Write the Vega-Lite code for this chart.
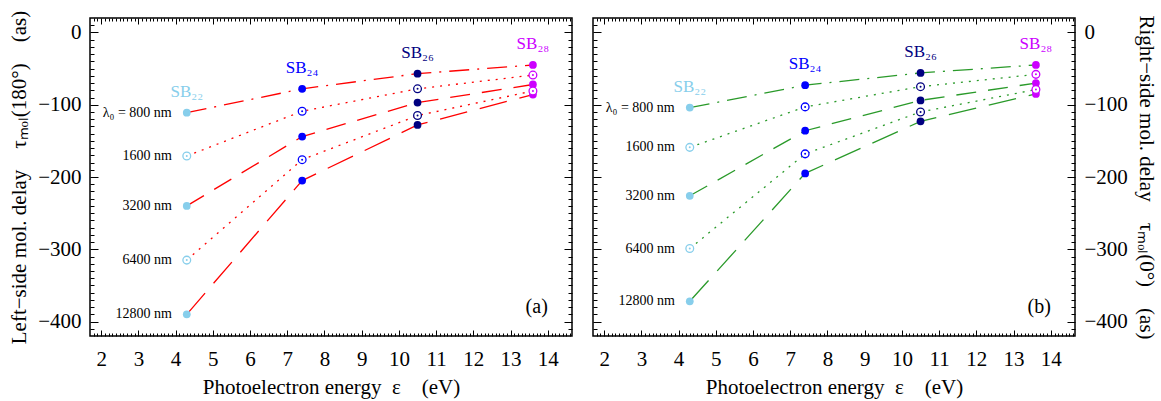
{
  "$schema": "https://vega.github.io/schema/vega-lite/v6.json",
  "padding": {"left": 7, "top": 9, "right": 5, "bottom": 2},
  "background": "white",
  "datasets": {
    "d": [
      {"p":"a","sb":"22","x":4.3,"lam":"800","tau":-111,"lt":"λ₀ = 800 nm","st":"SB₂₂"},
      {"p":"a","sb":"22","x":4.3,"lam":"1600","tau":-171,"lt":"1600 nm","st":"SB₂₂"},
      {"p":"a","sb":"22","x":4.3,"lam":"3200","tau":-240,"lt":"3200 nm","st":"SB₂₂"},
      {"p":"a","sb":"22","x":4.3,"lam":"6400","tau":-315,"lt":"6400 nm","st":"SB₂₂"},
      {"p":"a","sb":"22","x":4.3,"lam":"12800","tau":-390,"lt":"12800 nm","st":"SB₂₂"},
      {"p":"a","sb":"24","x":7.4,"lam":"800","tau":-78,"lt":"","st":"SB₂₄"},
      {"p":"a","sb":"24","x":7.4,"lam":"1600","tau":-109,"lt":"","st":"SB₂₄"},
      {"p":"a","sb":"24","x":7.4,"lam":"3200","tau":-144,"lt":"","st":"SB₂₄"},
      {"p":"a","sb":"24","x":7.4,"lam":"6400","tau":-176,"lt":"","st":"SB₂₄"},
      {"p":"a","sb":"24","x":7.4,"lam":"12800","tau":-205,"lt":"","st":"SB₂₄"},
      {"p":"a","sb":"26","x":10.5,"lam":"800","tau":-57,"lt":"","st":"SB₂₆"},
      {"p":"a","sb":"26","x":10.5,"lam":"1600","tau":-78,"lt":"","st":"SB₂₆"},
      {"p":"a","sb":"26","x":10.5,"lam":"3200","tau":-97,"lt":"","st":"SB₂₆"},
      {"p":"a","sb":"26","x":10.5,"lam":"6400","tau":-115,"lt":"","st":"SB₂₆"},
      {"p":"a","sb":"26","x":10.5,"lam":"12800","tau":-128,"lt":"","st":"SB₂₆"},
      {"p":"a","sb":"28","x":13.6,"lam":"800","tau":-45,"lt":"","st":"SB₂₈"},
      {"p":"a","sb":"28","x":13.6,"lam":"1600","tau":-59,"lt":"","st":"SB₂₈"},
      {"p":"a","sb":"28","x":13.6,"lam":"3200","tau":-72,"lt":"","st":"SB₂₈"},
      {"p":"a","sb":"28","x":13.6,"lam":"6400","tau":-81,"lt":"","st":"SB₂₈"},
      {"p":"a","sb":"28","x":13.6,"lam":"12800","tau":-86,"lt":"","st":"SB₂₈"},
      {"p":"b","sb":"22","x":4.3,"lam":"800","tau":-104,"lt":"λ₀ = 800 nm","st":"SB₂₂"},
      {"p":"b","sb":"22","x":4.3,"lam":"1600","tau":-159,"lt":"1600 nm","st":"SB₂₂"},
      {"p":"b","sb":"22","x":4.3,"lam":"3200","tau":-226,"lt":"3200 nm","st":"SB₂₂"},
      {"p":"b","sb":"22","x":4.3,"lam":"6400","tau":-299,"lt":"6400 nm","st":"SB₂₂"},
      {"p":"b","sb":"22","x":4.3,"lam":"12800","tau":-372,"lt":"12800 nm","st":"SB₂₂"},
      {"p":"b","sb":"24","x":7.4,"lam":"800","tau":-73,"lt":"","st":"SB₂₄"},
      {"p":"b","sb":"24","x":7.4,"lam":"1600","tau":-103,"lt":"","st":"SB₂₄"},
      {"p":"b","sb":"24","x":7.4,"lam":"3200","tau":-136,"lt":"","st":"SB₂₄"},
      {"p":"b","sb":"24","x":7.4,"lam":"6400","tau":-168,"lt":"","st":"SB₂₄"},
      {"p":"b","sb":"24","x":7.4,"lam":"12800","tau":-195,"lt":"","st":"SB₂₄"},
      {"p":"b","sb":"26","x":10.5,"lam":"800","tau":-56,"lt":"","st":"SB₂₆"},
      {"p":"b","sb":"26","x":10.5,"lam":"1600","tau":-75,"lt":"","st":"SB₂₆"},
      {"p":"b","sb":"26","x":10.5,"lam":"3200","tau":-94,"lt":"","st":"SB₂₆"},
      {"p":"b","sb":"26","x":10.5,"lam":"6400","tau":-110,"lt":"","st":"SB₂₆"},
      {"p":"b","sb":"26","x":10.5,"lam":"12800","tau":-123,"lt":"","st":"SB₂₆"},
      {"p":"b","sb":"28","x":13.6,"lam":"800","tau":-45,"lt":"","st":"SB₂₈"},
      {"p":"b","sb":"28","x":13.6,"lam":"1600","tau":-58,"lt":"","st":"SB₂₈"},
      {"p":"b","sb":"28","x":13.6,"lam":"3200","tau":-70,"lt":"","st":"SB₂₈"},
      {"p":"b","sb":"28","x":13.6,"lam":"6400","tau":-79,"lt":"","st":"SB₂₈"},
      {"p":"b","sb":"28","x":13.6,"lam":"12800","tau":-85,"lt":"","st":"SB₂₈"}
    ]
  },
  "data": {"name": "d"},
  "spacing": 17,
  "hconcat": [
    {
      "width": 482, "height": 318,
      "transform": [{"filter": "datum.p === 'a'"}],
      "resolve": {"axis": {"x": "independent", "y": "independent"}},
      "layer": [
        {
          "mark": {"type": "line", "color": "#ff0000", "strokeWidth": 1.3},
          "encoding": {
            "x": {"field": "x", "type": "quantitative", "scale": {"domain": [1.7, 14.65], "nice": false, "zero": false},
              "axis": {"orient": "bottom", "values": [2,3,4,5,6,7,8,9,10,11,12,13,14], "tickSize": -6, "labelPadding": 18, "title": "Photoelectron energy\u2002ε\u2003(eV)", "titlePadding": 7,
                "encode": {"labels": {"update": {"font": {"value": "Liberation Serif"}, "fontSize": {"value": 21}}}, "title": {"update": {"font": {"value": "Liberation Serif"}, "fontSize": {"value": 21}}}}}},
            "y": {"field": "tau", "type": "quantitative", "scale": {"domain": [-420, 20], "nice": false, "zero": false},
              "axis": {"orient": "left", "values": [-400,-300,-200,-100,0], "tickSize": -8, "labelPadding": 17, "title": "Left−side mol. delay\u2003τₘₒₗ(180°)\u2003(as)", "titlePadding": 8,
                "encode": {"labels": {"update": {"font": {"value": "Liberation Serif"}, "fontSize": {"value": 21}}}, "title": {"update": {"font": {"value": "Liberation Serif"}, "fontSize": {"value": 21}}}}}},
            "detail": {"field": "lam"},
            "strokeDash": {"field": "lam", "type": "nominal", "legend": null,
              "scale": {"domain": ["800","1600","3200","6400","12800"], "range": [[20,8,2,8],[2,6],[20,12],[2,6],[28,13]]}}
          }
        },
        {
          "transform": [{"filter": "datum.lam === '800' || datum.lam === '3200' || datum.lam === '12800'"}],
          "mark": {"type": "point", "shape": "circle", "filled": true, "size": 60, "opacity": 1},
          "encoding": {
            "x": {"field": "x", "type": "quantitative", "scale": {"domain": [1.7, 14.65], "nice": false, "zero": false},
              "axis": {"orient": "bottom", "values": [1.8,1.9,2.1,2.2,2.3,2.4,2.5,2.6,2.7,2.8,2.9,3.1,3.2,3.3,3.4,3.5,3.6,3.7,3.8,3.9,4.1,4.2,4.3,4.4,4.5,4.6,4.7,4.8,4.9,5.1,5.2,5.3,5.4,5.5,5.6,5.7,5.8,5.9,6.1,6.2,6.3,6.4,6.5,6.6,6.7,6.8,6.9,7.1,7.2,7.3,7.4,7.5,7.6,7.7,7.8,7.9,8.1,8.2,8.3,8.4,8.5,8.6,8.7,8.8,8.9,9.1,9.2,9.3,9.4,9.5,9.6,9.7,9.8,9.9,10.1,10.2,10.3,10.4,10.5,10.6,10.7,10.8,10.9,11.1,11.2,11.3,11.4,11.5,11.6,11.7,11.8,11.9,12.1,12.2,12.3,12.4,12.5,12.6,12.7,12.8,12.9,13.1,13.2,13.3,13.4,13.5,13.6,13.7,13.8,13.9,14.1,14.2,14.3,14.4,14.5,14.6], "tickSize": -3, "labels": false, "title": null}},
            "y": {"field": "tau", "type": "quantitative", "scale": {"domain": [-420, 20], "nice": false, "zero": false},
              "axis": {"orient": "left", "values": [-410,-390,-380,-370,-360,-350,-340,-330,-320,-310,-290,-280,-270,-260,-250,-240,-230,-220,-210,-190,-180,-170,-160,-150,-140,-130,-120,-110,-90,-80,-70,-60,-50,-40,-30,-20,-10,10], "tickSize": -4, "labels": false, "title": null}},
            "color": {"field": "sb", "type": "nominal", "legend": null,
              "scale": {"domain": ["22","24","26","28"], "range": ["#87ceeb","#0000ff","#000080","#cc00ff"]}}
          }
        },
        {
          "transform": [{"filter": "datum.lam === '1600' || datum.lam === '6400'"}],
          "mark": {"type": "point", "shape": "circle", "filled": false, "fill": "white", "fillOpacity": 1, "size": 60, "strokeWidth": 1.3, "opacity": 1},
          "encoding": {
            "x": {"field": "x", "type": "quantitative", "scale": {"domain": [1.7, 14.65], "nice": false, "zero": false},
              "axis": {"orient": "top", "values": [2,3,4,5,6,7,8,9,10,11,12,13,14], "tickSize": -6, "labels": false, "title": null}},
            "y": {"field": "tau", "type": "quantitative", "scale": {"domain": [-420, 20], "nice": false, "zero": false},
              "axis": {"orient": "right", "values": [-400,-300,-200,-100,0], "tickSize": -8, "labels": false, "title": null}},
            "color": {"field": "sb", "type": "nominal", "legend": null}
          }
        },
        {
          "transform": [{"filter": "datum.lam === '1600' || datum.lam === '6400'"}],
          "mark": {"type": "point", "shape": "circle", "filled": true, "size": 4, "opacity": 1},
          "encoding": {
            "x": {"field": "x", "type": "quantitative", "scale": {"domain": [1.7, 14.65], "nice": false, "zero": false},
              "axis": {"orient": "top", "values": [1.8,1.9,2.1,2.2,2.3,2.4,2.5,2.6,2.7,2.8,2.9,3.1,3.2,3.3,3.4,3.5,3.6,3.7,3.8,3.9,4.1,4.2,4.3,4.4,4.5,4.6,4.7,4.8,4.9,5.1,5.2,5.3,5.4,5.5,5.6,5.7,5.8,5.9,6.1,6.2,6.3,6.4,6.5,6.6,6.7,6.8,6.9,7.1,7.2,7.3,7.4,7.5,7.6,7.7,7.8,7.9,8.1,8.2,8.3,8.4,8.5,8.6,8.7,8.8,8.9,9.1,9.2,9.3,9.4,9.5,9.6,9.7,9.8,9.9,10.1,10.2,10.3,10.4,10.5,10.6,10.7,10.8,10.9,11.1,11.2,11.3,11.4,11.5,11.6,11.7,11.8,11.9,12.1,12.2,12.3,12.4,12.5,12.6,12.7,12.8,12.9,13.1,13.2,13.3,13.4,13.5,13.6,13.7,13.8,13.9,14.1,14.2,14.3,14.4,14.5,14.6], "tickSize": -3, "labels": false, "title": null}},
            "y": {"field": "tau", "type": "quantitative", "scale": {"domain": [-420, 20], "nice": false, "zero": false},
              "axis": {"orient": "right", "values": [-410,-390,-380,-370,-360,-350,-340,-330,-320,-310,-290,-280,-270,-260,-250,-240,-230,-220,-210,-190,-180,-170,-160,-150,-140,-130,-120,-110,-90,-80,-70,-60,-50,-40,-30,-20,-10,10], "tickSize": -4, "labels": false, "title": null}},
            "color": {"field": "sb", "type": "nominal", "legend": null}
          }
        },
        {
          "transform": [{"filter": "datum.sb === '22'"}],
          "mark": {"type": "text", "align": "right", "baseline": "middle", "dx": -15, "fontSize": 14, "font": "Liberation Serif", "color": "black"},
          "encoding": {
            "x": {"field": "x", "type": "quantitative", "axis": null},
            "y": {"field": "tau", "type": "quantitative", "axis": null},
            "text": {"field": "lt"}
          }
        },
        {
          "transform": [{"filter": "datum.lam === '800'"}],
          "mark": {"type": "text", "align": "center", "baseline": "alphabetic", "dy": -16, "fontSize": 17, "font": "Liberation Serif"},
          "encoding": {
            "x": {"field": "x", "type": "quantitative", "axis": null},
            "y": {"field": "tau", "type": "quantitative", "axis": null},
            "text": {"field": "st"},
            "color": {"field": "sb", "type": "nominal", "legend": null}
          }
        },
        {
          "data": {"values": [{"t": "(a)"}]},
          "mark": {"type": "text", "align": "right", "baseline": "alphabetic", "fontSize": 20, "font": "Liberation Serif", "color": "black"},
          "encoding": {
            "x": {"datum": 14.0, "type": "quantitative", "axis": null},
            "y": {"datum": -388, "type": "quantitative", "axis": null},
            "text": {"field": "t"}
          }
        }
      ]
    },
    {
      "width": 482, "height": 318,
      "transform": [{"filter": "datum.p === 'b'"}],
      "resolve": {"axis": {"x": "independent", "y": "independent"}},
      "layer": [
        {
          "mark": {"type": "line", "color": "#2a9a2a", "strokeWidth": 1.3},
          "encoding": {
            "x": {"field": "x", "type": "quantitative", "scale": {"domain": [1.7, 14.65], "nice": false, "zero": false},
              "axis": {"orient": "bottom", "values": [2,3,4,5,6,7,8,9,10,11,12,13,14], "tickSize": -6, "labelPadding": 18, "title": "Photoelectron energy\u2002ε\u2003(eV)", "titlePadding": 7,
                "encode": {"labels": {"update": {"font": {"value": "Liberation Serif"}, "fontSize": {"value": 21}}}, "title": {"update": {"font": {"value": "Liberation Serif"}, "fontSize": {"value": 21}}}}}},
            "y": {"field": "tau", "type": "quantitative", "scale": {"domain": [-420, 20], "nice": false, "zero": false},
              "axis": {"orient": "left", "values": [-400,-300,-200,-100,0], "tickSize": -8, "labels": false, "title": null}},
            "detail": {"field": "lam"},
            "strokeDash": {"field": "lam", "type": "nominal", "legend": null,
              "scale": {"domain": ["800","1600","3200","6400","12800"], "range": [[20,8,2,8],[2,6],[20,12],[2,6],[28,13]]}}
          }
        },
        {
          "transform": [{"filter": "datum.lam === '800' || datum.lam === '3200' || datum.lam === '12800'"}],
          "mark": {"type": "point", "shape": "circle", "filled": true, "size": 60, "opacity": 1},
          "encoding": {
            "x": {"field": "x", "type": "quantitative", "scale": {"domain": [1.7, 14.65], "nice": false, "zero": false},
              "axis": {"orient": "bottom", "values": [1.8,1.9,2.1,2.2,2.3,2.4,2.5,2.6,2.7,2.8,2.9,3.1,3.2,3.3,3.4,3.5,3.6,3.7,3.8,3.9,4.1,4.2,4.3,4.4,4.5,4.6,4.7,4.8,4.9,5.1,5.2,5.3,5.4,5.5,5.6,5.7,5.8,5.9,6.1,6.2,6.3,6.4,6.5,6.6,6.7,6.8,6.9,7.1,7.2,7.3,7.4,7.5,7.6,7.7,7.8,7.9,8.1,8.2,8.3,8.4,8.5,8.6,8.7,8.8,8.9,9.1,9.2,9.3,9.4,9.5,9.6,9.7,9.8,9.9,10.1,10.2,10.3,10.4,10.5,10.6,10.7,10.8,10.9,11.1,11.2,11.3,11.4,11.5,11.6,11.7,11.8,11.9,12.1,12.2,12.3,12.4,12.5,12.6,12.7,12.8,12.9,13.1,13.2,13.3,13.4,13.5,13.6,13.7,13.8,13.9,14.1,14.2,14.3,14.4,14.5,14.6], "tickSize": -3, "labels": false, "title": null}},
            "y": {"field": "tau", "type": "quantitative", "scale": {"domain": [-420, 20], "nice": false, "zero": false},
              "axis": {"orient": "left", "values": [-410,-390,-380,-370,-360,-350,-340,-330,-320,-310,-290,-280,-270,-260,-250,-240,-230,-220,-210,-190,-180,-170,-160,-150,-140,-130,-120,-110,-90,-80,-70,-60,-50,-40,-30,-20,-10,10], "tickSize": -4, "labels": false, "title": null}},
            "color": {"field": "sb", "type": "nominal", "legend": null,
              "scale": {"domain": ["22","24","26","28"], "range": ["#87ceeb","#0000ff","#000080","#cc00ff"]}}
          }
        },
        {
          "transform": [{"filter": "datum.lam === '1600' || datum.lam === '6400'"}],
          "mark": {"type": "point", "shape": "circle", "filled": false, "fill": "white", "fillOpacity": 1, "size": 60, "strokeWidth": 1.3, "opacity": 1},
          "encoding": {
            "x": {"field": "x", "type": "quantitative", "scale": {"domain": [1.7, 14.65], "nice": false, "zero": false},
              "axis": {"orient": "top", "values": [2,3,4,5,6,7,8,9,10,11,12,13,14], "tickSize": -6, "labels": false, "title": null}},
            "y": {"field": "tau", "type": "quantitative", "scale": {"domain": [-420, 20], "nice": false, "zero": false},
              "axis": {"orient": "right", "values": [-400,-300,-200,-100,0], "tickSize": -8, "labelPadding": 17, "title": "Right−side mol. delay\u2003τₘₒₗ(0°)\u2003(as)", "titlePadding": 8,
                "encode": {"labels": {"update": {"font": {"value": "Liberation Serif"}, "fontSize": {"value": 21}}}, "title": {"update": {"font": {"value": "Liberation Serif"}, "fontSize": {"value": 21}}}}}},
            "color": {"field": "sb", "type": "nominal", "legend": null}
          }
        },
        {
          "transform": [{"filter": "datum.lam === '1600' || datum.lam === '6400'"}],
          "mark": {"type": "point", "shape": "circle", "filled": true, "size": 4, "opacity": 1},
          "encoding": {
            "x": {"field": "x", "type": "quantitative", "scale": {"domain": [1.7, 14.65], "nice": false, "zero": false},
              "axis": {"orient": "top", "values": [1.8,1.9,2.1,2.2,2.3,2.4,2.5,2.6,2.7,2.8,2.9,3.1,3.2,3.3,3.4,3.5,3.6,3.7,3.8,3.9,4.1,4.2,4.3,4.4,4.5,4.6,4.7,4.8,4.9,5.1,5.2,5.3,5.4,5.5,5.6,5.7,5.8,5.9,6.1,6.2,6.3,6.4,6.5,6.6,6.7,6.8,6.9,7.1,7.2,7.3,7.4,7.5,7.6,7.7,7.8,7.9,8.1,8.2,8.3,8.4,8.5,8.6,8.7,8.8,8.9,9.1,9.2,9.3,9.4,9.5,9.6,9.7,9.8,9.9,10.1,10.2,10.3,10.4,10.5,10.6,10.7,10.8,10.9,11.1,11.2,11.3,11.4,11.5,11.6,11.7,11.8,11.9,12.1,12.2,12.3,12.4,12.5,12.6,12.7,12.8,12.9,13.1,13.2,13.3,13.4,13.5,13.6,13.7,13.8,13.9,14.1,14.2,14.3,14.4,14.5,14.6], "tickSize": -3, "labels": false, "title": null}},
            "y": {"field": "tau", "type": "quantitative", "scale": {"domain": [-420, 20], "nice": false, "zero": false},
              "axis": {"orient": "right", "values": [-410,-390,-380,-370,-360,-350,-340,-330,-320,-310,-290,-280,-270,-260,-250,-240,-230,-220,-210,-190,-180,-170,-160,-150,-140,-130,-120,-110,-90,-80,-70,-60,-50,-40,-30,-20,-10,10], "tickSize": -4, "labels": false, "title": null}},
            "color": {"field": "sb", "type": "nominal", "legend": null}
          }
        },
        {
          "transform": [{"filter": "datum.sb === '22'"}],
          "mark": {"type": "text", "align": "right", "baseline": "middle", "dx": -15, "fontSize": 14, "font": "Liberation Serif", "color": "black"},
          "encoding": {
            "x": {"field": "x", "type": "quantitative", "axis": null},
            "y": {"field": "tau", "type": "quantitative", "axis": null},
            "text": {"field": "lt"}
          }
        },
        {
          "transform": [{"filter": "datum.lam === '800'"}],
          "mark": {"type": "text", "align": "center", "baseline": "alphabetic", "dy": -16, "fontSize": 17, "font": "Liberation Serif"},
          "encoding": {
            "x": {"field": "x", "type": "quantitative", "axis": null},
            "y": {"field": "tau", "type": "quantitative", "axis": null},
            "text": {"field": "st"},
            "color": {"field": "sb", "type": "nominal", "legend": null}
          }
        },
        {
          "data": {"values": [{"t": "(b)"}]},
          "mark": {"type": "text", "align": "right", "baseline": "alphabetic", "fontSize": 20, "font": "Liberation Serif", "color": "black"},
          "encoding": {
            "x": {"datum": 14.0, "type": "quantitative", "axis": null},
            "y": {"datum": -388, "type": "quantitative", "axis": null},
            "text": {"field": "t"}
          }
        }
      ]
    }
  ],
  "config": {
    "view": {"stroke": "black", "strokeWidth": 1.5},
    "axis": {"labelFont": "Liberation Serif", "titleFont": "Liberation Serif", "labelFontSize": 21, "titleFontSize": 21, "titleFontWeight": "normal", "labelColor": "black", "titleColor": "black", "tickColor": "black", "tickWidth": 1, "domain": false, "grid": false, "labelFlush": false, "labelOverlap": false},
    "text": {"font": "Liberation Serif"}
  }
}
